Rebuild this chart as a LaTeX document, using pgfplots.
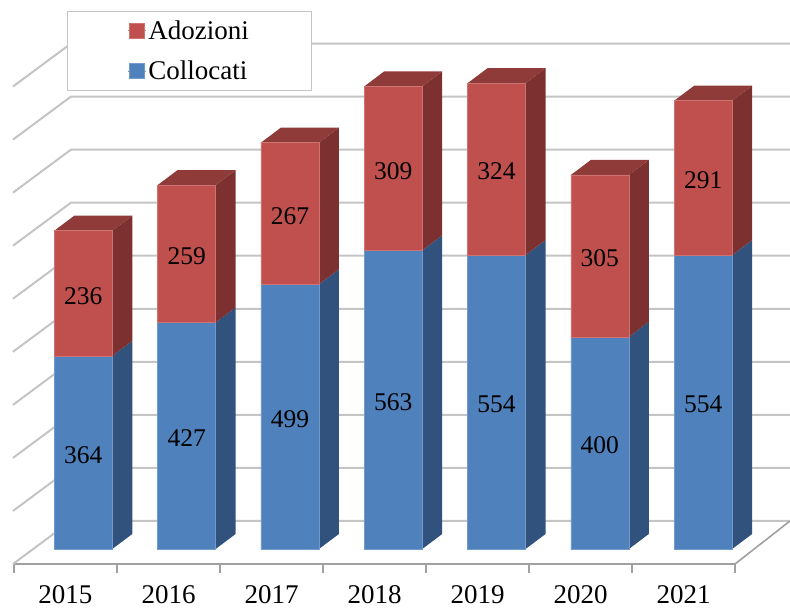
\documentclass[border=0pt]{standalone}
\usepackage{fontspec}
\setmainfont{Liberation Serif}
\usepackage{pgfplots}
\pgfplotsset{compat=1.18}

\definecolor{blueF}{HTML}{4F81BD}
\definecolor{blueS}{HTML}{30527C}
\definecolor{blueT}{HTML}{395F8D}
\definecolor{redF}{HTML}{C0504D}
\definecolor{redS}{HTML}{7C3130}
\definecolor{redT}{HTML}{8F3B39}
\definecolor{gridc}{HTML}{C4C4C4}
\definecolor{axisc}{HTML}{A0A0A0}

\pgfplotsset{square legend/.style={legend image code/.code={\path (0pt,0pt) -- (18pt,0pt);\fill[##1] (1.5pt,-7.5pt) rectangle (16.5pt,7.5pt);}}}

\begin{document}
\begin{tikzpicture}
\useasboundingbox (0,0) rectangle (790pt,610pt);
\begin{axis}[
at={(14pt,46pt)},anchor=south west,
scale only axis,width=721pt,height=545.5pt,
clip=false,
xmin=-0.5,xmax=6.5,ymin=-28.3,ymax=1000,
axis x line*=bottom,axis y line=none,
x axis line style={-,axisc,line width=1.6pt},
xtick={0,1,2,3,4,5,6},
xticklabels={2015,2016,2017,2018,2019,2020,2021},
minor xtick={-0.5,0.5,1.5,2.5,3.5,4.5,5.5,6.5},
tick pos=bottom,
major tick length=0pt,minor tick length=9pt,
tick align=outside,
minor tick style={axisc,line width=1.2pt},
xticklabel style={font=\fontsize{27}{27}\selectfont,inner sep=0pt,yshift=-21pt},
reverse legend,
legend cell align=left,
legend style={at={(axis cs:0.0146,1014)},anchor=north west,
  draw=gridc,line width=0.9pt,fill=white,
  font=\fontsize{27}{27}\selectfont,
  inner xsep=60.5pt,inner ysep=7pt,row sep=16pt},
]
% back wall and left wall lines
\addplot[gridc,line width=2pt,forget plot] coordinates {(-0.51,-28.3)(0.053,52.8)(7.034,52.8)};
\addplot[gridc,line width=2pt,forget plot] coordinates {(-0.51,71.7)(0.053,152.8)(7.034,152.8)};
\addplot[gridc,line width=2pt,forget plot] coordinates {(-0.51,171.7)(0.053,252.8)(7.034,252.8)};
\addplot[gridc,line width=2pt,forget plot] coordinates {(-0.51,271.7)(0.053,352.8)(7.034,352.8)};
\addplot[gridc,line width=2pt,forget plot] coordinates {(-0.51,371.7)(0.053,452.8)(7.034,452.8)};
\addplot[gridc,line width=2pt,forget plot] coordinates {(-0.51,471.7)(0.053,552.8)(7.034,552.8)};
\addplot[gridc,line width=2pt,forget plot] coordinates {(-0.51,571.7)(0.053,652.8)(7.034,652.8)};
\addplot[gridc,line width=2pt,forget plot] coordinates {(-0.51,671.7)(0.053,752.8)(7.034,752.8)};
\addplot[gridc,line width=2pt,forget plot] coordinates {(-0.51,771.7)(0.053,852.8)(7.034,852.8)};
\addplot[gridc,line width=2pt,forget plot] coordinates {(-0.51,871.7)(0.053,952.8)(7.034,952.8)};
% floor edge on the right
\addplot[axisc,line width=1.6pt,forget plot] coordinates {(6.5,-28.3)(7.034,52.8)};

% side and top faces of the bars
\foreach \n/\cl/\tot in {0/364/600,1/427/686,2/499/766,3/563/872,4/554/878,5/400/705,6/554/845}{
  \pgfmathsetmacro\xa{\n*1.003-0.1086}
  \pgfmathsetmacro\xb{\n*1.003+0.0854}
  \pgfmathsetmacro\xc{\n*1.003+0.4546}
  \pgfmathsetmacro\xd{\n*1.003+0.6486}
  \pgfmathsetmacro\clb{\cl+28.3}
  \pgfmathsetmacro\totb{\tot+28.3}
  \edef\temp{
    \noexpand\addplot[fill=blueS,draw=none,forget plot] coordinates {(\xc,0)(\xd,28.3)(\xd,\clb)(\xc,\cl)} -- cycle;
    \noexpand\addplot[fill=redS,draw=none,forget plot] coordinates {(\xc,\cl)(\xd,\clb)(\xd,\totb)(\xc,\tot)} -- cycle;
    \noexpand\addplot[fill=redT,draw=none,forget plot] coordinates {(\xa,\tot)(\xb,\totb)(\xd,\totb)(\xc,\tot)} -- cycle;
  }
  \temp
}

\addplot[ybar stacked,square legend,bar width=58pt,fill=blueF,draw=blueF!80!white,line width=0.5pt]
  coordinates {(0.173,364)(1.176,427)(2.179,499)(3.182,563)(4.185,554)(5.188,400)(6.191,554)};
\addlegendentry{Collocati}
\addplot[ybar stacked,square legend,bar width=58pt,fill=redF,draw=redF!80!white,line width=0.5pt]
  coordinates {(0.173,236)(1.176,259)(2.179,267)(3.182,309)(4.185,324)(5.188,305)(6.191,291)};
\addlegendentry{Adozioni}

% value labels, at the middle of each segment
\addplot[draw=none,mark=none,forget plot,point meta=explicit symbolic,nodes near coords,
  nodes near coords style={anchor=center,text=black,yshift=-2.5pt,font=\fontsize{25.5}{25.5}\selectfont}]
  coordinates {(0.173,182)[364](1.176,213.5)[427](2.179,249.5)[499](3.182,281.5)[563](4.185,277)[554](5.188,200)[400](6.191,277)[554]
    (0.173,482)[236](1.176,556.5)[259](2.179,632.5)[267](3.182,717.5)[309](4.185,716)[324](5.188,552.5)[305](6.191,699.5)[291]};
\end{axis}
\end{tikzpicture}
\end{document}
